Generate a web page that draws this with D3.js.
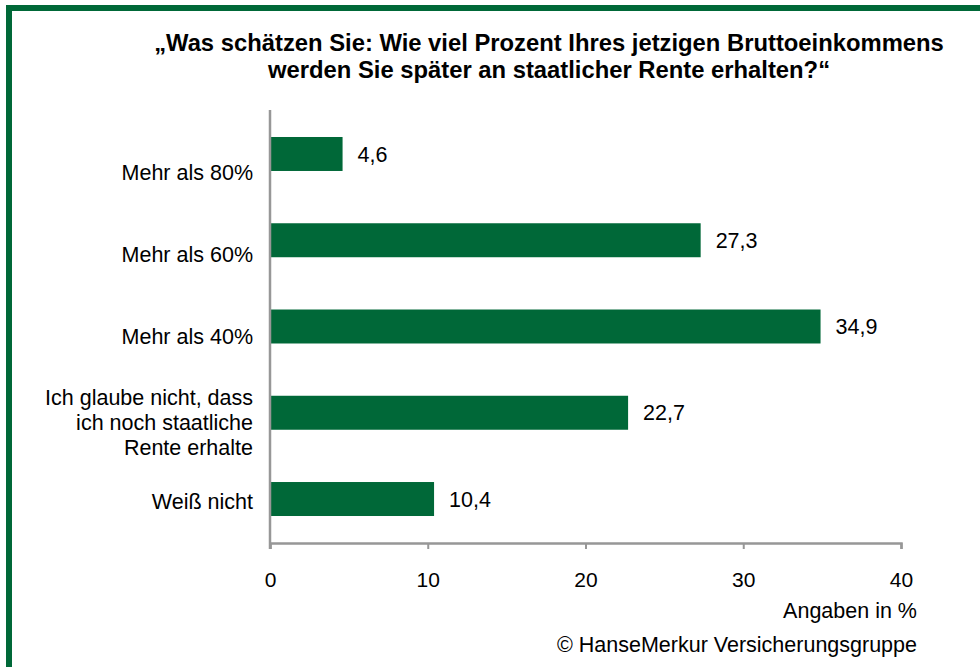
<!DOCTYPE html>
<html>
<head>
<meta charset="utf-8">
<script src="https://cdn.jsdelivr.net/npm/d3@7"></script>
<style>
  html, body { margin: 0; padding: 0; background: #fff; }
  svg { display: block; font-family: "Liberation Sans", Arial, sans-serif; }
</style>
</head>
<body>
<svg id="chart" width="980" height="667"></svg>
<script>
const titleLines = ["\u201EWas schätzen Sie: Wie viel Prozent Ihres jetzigen Bruttoeinkommens",
                    "werden Sie später an staatlicher Rente erhalten?\u201C"];
const categories = ["Mehr als 80%", "Mehr als 60%", "Mehr als 40%",
                    "Ich glaube nicht, dass|ich noch staatliche|Rente erhalte", "Weiß nicht"];
const values = [4.6, 27.3, 34.9, 22.7, 10.4];
const xTicks = [0, 10, 20, 30, 40];
const unitLabel = "Angaben in %";
const sourceLabel = "© HanseMerkur Versicherungsgruppe";

const svg = d3.select("#chart");
const green = "#006838";
const axisGrey = "#979797";

// frame
svg.append("rect").attr("x", 9).attr("y", 8).attr("width", 1000).attr("height", 700)
  .attr("fill", "none").attr("stroke", green).attr("stroke-width", 6);

// title
svg.append("g").selectAll("text").data(titleLines).join("text")
  .attr("x", 549).attr("y", (d, i) => 51 + i * 26.5)
  .attr("text-anchor", "middle").attr("font-weight", "bold").attr("font-size", 23.8)
  .attr("fill", "#000").text(d => d);

const x = d3.scaleLinear().domain([0, 40]).range([270, 901]);
const y = d3.scaleBand().domain(categories).range([110, 543]).paddingInner(0.606).paddingOuter(0.313);
const labelY = d3.scalePoint().domain(categories).range([172, 501]);

// bars
svg.append("g").selectAll("rect").data(values).join("rect")
  .attr("x", x(0) + 1).attr("y", (d, i) => y(categories[i]))
  .attr("width", d => x(d) - x(0) - 1).attr("height", y.bandwidth())
  .attr("fill", green);

// value labels
svg.append("g").selectAll("text").data(values).join("text")
  .attr("x", d => x(d) + 15).attr("y", (d, i) => y(categories[i]) + y.bandwidth() / 2)
  .attr("dy", "0.35em").attr("font-size", 21.5).attr("fill", "#000")
  .text(d => d3.format(".1f")(d).replace(".", ","));

// x axis
const xAxis = d3.axisBottom(x).tickValues(xTicks).tickSize(6).tickPadding(23).tickFormat(d3.format("d"));
const gx = svg.append("g").attr("transform", "translate(0,543)").call(xAxis);
gx.select(".domain").attr("stroke", axisGrey).attr("stroke-width", 2.5);
gx.selectAll(".tick line").attr("stroke", axisGrey).attr("stroke-width", 2);
gx.selectAll(".tick text").attr("font-size", 21).attr("fill", "#000")
  .attr("font-family", "Liberation Sans, Arial, sans-serif");

// y axis line
svg.append("line").attr("x1", 270).attr("x2", 270).attr("y1", 110).attr("y2", 549)
  .attr("stroke", axisGrey).attr("stroke-width", 2.5);

// category labels
const cl = svg.append("g").selectAll("text").data(categories).join("text")
  .attr("text-anchor", "end").attr("font-size", 21.5).attr("fill", "#000");
cl.each(function(d) {
  const lines = d.split("|");
  const t = d3.select(this);
  const lh = 25;
  const start = labelY(d) + (lines.length > 1 ? 4 : 0) - (lines.length - 1) * lh / 2;
  lines.forEach((ln, i) => {
    t.append("tspan").attr("x", 253).attr("y", start + i * lh).attr("dy", "0.35em").text(ln);
  });
});

// footer texts
svg.append("text").attr("x", 917).attr("y", 618).attr("text-anchor", "end")
  .attr("font-size", 21.5).attr("fill", "#000").text(unitLabel);
svg.append("text").attr("x", 917).attr("y", 652).attr("text-anchor", "end")
  .attr("font-size", 21.5).attr("fill", "#000").text(sourceLabel);
</script>
</body>
</html>
